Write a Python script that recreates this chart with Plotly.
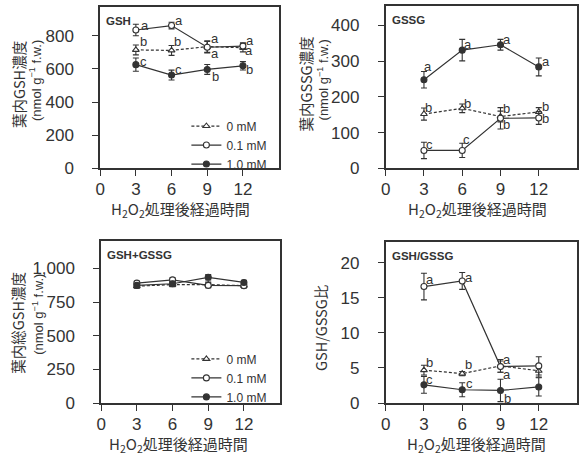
import plotly.graph_objects as go

# ---------------- data ----------------
times = [3, 6, 9, 12]
series_names = ["0 mM", "0.1 mM", "1.0 mM"]

# GSH (nmol g-1 f.w.)
gsh_0 = [715, 712, 735, 728]
gsh_01 = [835, 862, 731, 738]
gsh_10 = [626, 563, 597, 619]
gsh_0_err = [30, 30, 35, 25]
gsh_01_err = [35, 20, 35, 20]
gsh_10_err = [40, 30, 30, 25]
gsh_let_0 = ["b", "b", "a", "a"]
gsh_let_01 = ["a", "a", "a", "a"]
gsh_let_10 = ["c", "c", "b", "b"]

# GSSG
gssg_0 = [152, 168, 145, 158]
gssg_01 = [50, 50, 140, 141]
gssg_10 = [248, 331, 346, 284]
gssg_0_err = [17, 12, 15, 12]
gssg_01_err = [23, 20, 30, 18]
gssg_10_err = [23, 30, 15, 25]
gssg_let_0 = ["b", "b", "b", "b"]
gssg_let_01 = ["c", "c", "b", "b"]
gssg_let_10 = ["a", "a", "a", "a"]

# GSH+GSSG
tot_0 = [868, 880, 880, 872]
tot_01 = [891, 915, 874, 872]
tot_10 = [874, 886, 934, 896]
tot_0_err = [15, 15, 18, 15]
tot_01_err = [15, 15, 18, 15]
tot_10_err = [15, 18, 20, 15]

# GSH/GSSG ratio
rat_0 = [4.7, 4.2, 5.3, 4.6]
rat_01 = [16.6, 17.4, 5.2, 5.3]
rat_10 = [2.6, 1.9, 1.8, 2.3]
rat_0_err = [0.7, 0.3, 0.9, 0.9]
rat_01_err = [1.9, 1.2, 0.8, 1.3]
rat_10_err = [1.2, 1.0, 1.6, 1.3]
rat_let_0 = ["b", "b", "a", ""]
rat_let_01 = ["a", "a", "a", ""]
rat_let_10 = ["c", "c", "b", ""]

x_ticks = [0, 3, 6, 9, 12]
gsh_ticks = [0, 200, 400, 600, 800]
gssg_ticks = [0, 100, 200, 300, 400]
tot_ticks = [0, 250, 500, 750, 1000]
rat_ticks = [0, 5, 10, 15, 20]

panel_labels = ["GSH", "GSSG", "GSH+GSSG", "GSH/GSSG"]
xtitle = "H<sub>2</sub>O<sub>2</sub>処理後経過時間"
ytitles = [("葉内GSH濃度", "(nmol g<sup>−1</sup> f.w.)"),
           ("葉内GSSG濃度", "(nmol g<sup>−1</sup> f.w.)"),
           ("葉内総GSH濃度", "(nmol g<sup>−1</sup> f.w.)"),
           ("GSH/GSSG比", None)]

# ---------------- styles ----------------
W, H = 579, 462
INK = "#333333"
FONT = "Liberation Sans, Arial, sans-serif"
CJK = "Noto Sans CJK JP, Liberation Sans, sans-serif"

styles = {
    "0 mM": dict(dash="3px,2px", symbol="triangle-up", fill="white", size=6),
    "0.1 mM": dict(dash="solid", symbol="circle", fill="white", size=6),
    "1.0 mM": dict(dash="solid", symbol="circle", fill=INK, size=6),
}

def px_dom_x(a, b):
    return [a / W, b / W]

def px_dom_y(top, bottom):
    return [1 - bottom / H, 1 - top / H]

panels = [
    dict(xd=px_dom_x(96, 276), yd=px_dom_y(7, 172), yr=[0, 975], yt=gsh_ticks,
         data=[gsh_0, gsh_01, gsh_10], err=[gsh_0_err, gsh_01_err, gsh_10_err],
         let=[gsh_let_0, gsh_let_01, gsh_let_10], legend="legend", xt_shift=-9),
    dict(xd=px_dom_x(384, 577), yd=px_dom_y(6, 172), yr=[0, 455], yt=gssg_ticks,
         data=[gssg_0, gssg_01, gssg_10], err=[gssg_0_err, gssg_01_err, gssg_10_err],
         let=[gssg_let_0, gssg_let_01, gssg_let_10], legend=None, xt_shift=-4),
    dict(xd=px_dom_x(97, 277), yd=px_dom_y(246, 412), yr=[0, 1206], yt=tot_ticks,
         data=[tot_0, tot_01, tot_10], err=[tot_0_err, tot_01_err, tot_10_err],
         let=None, legend="legend2", xt_shift=-12),
    dict(xd=px_dom_x(384, 577), yd=px_dom_y(247, 412), yr=[0, 23], yt=rat_ticks,
         data=[rat_0, rat_01, rat_10], err=[rat_0_err, rat_01_err, rat_10_err],
         let=[rat_let_0, rat_let_01, rat_let_10], legend=None, xt_shift=-5),
]

# letter offsets in pixels (dx right, dy up), per panel / series / time
let_shift = [
    [[(8, 8), (6, 9), (8, -7), (6, -3)],
     [(9, 5), (7, 5), (8, 9), (7, 6)],
     [(8, 3), (7, 6), (8, -7), (7, -4)]],
    [[(5, 7), (5, 5), (6, 8), (7, 5)],
     [(6, 6), (4, 11), (6, -6), (7, -1)],
     [(4, 13), (6, 6), (7, 5), (7, 5)]],
    None,
    [[(6, 8), (6, 9), (7, -9), (0, 0)],
     [(6, 7), (7, 3), (7, 7), (0, 0)],
     [(6, 5), (7, 6), (7, -8), (0, 0)]],
]

fig = go.Figure()
annotations = []
layout = {}

for i, p in enumerate(panels):
    k = "" if i == 0 else str(i + 1)
    xa, ya = "x" + k, "y" + k
    for j, name in enumerate(series_names):
        st = styles[name]
        tr = go.Scatter(
            x=times, y=p["data"][j], name=name, xaxis=xa, yaxis=ya,
            mode="lines+markers",
            line=dict(color=INK, width=1.2, dash=st["dash"]),
            marker=dict(symbol=st["symbol"], size=st["size"], color=st["fill"],
                        line=dict(color=INK, width=1.1)),
            error_y=dict(type="data", array=p["err"][j], color=INK,
                         thickness=1.1, width=3),
            showlegend=p["legend"] is not None,
        )
        if p["legend"] is not None:
            tr.legend = p["legend"]
        fig.add_trace(tr)
        if p["let"] is not None:
            for t, v, L, sh in zip(times, p["data"][j], p["let"][j], let_shift[i][j]):
                if L:
                    annotations.append(dict(
                        x=t, y=v, xref=xa, yref=ya, text=L, showarrow=False,
                        xanchor="center", yanchor="middle",
                        xshift=sh[0], yshift=sh[1],
                        font=dict(family=FONT, size=13, color=INK)))
    axis_common = dict(showline=True, mirror=True, linecolor=INK, linewidth=1.6,
                       showgrid=False, zeroline=False, ticks="outside",
                       ticklen=6, tickwidth=1.3, tickcolor=INK,
                       tickfont=dict(family=FONT, size=17, color=INK))
    layout["xaxis" + k] = dict(axis_common, domain=p["xd"], range=[0, 15],
                               tickvals=x_ticks, anchor=ya, ticklabelstandoff=-1)
    layout["yaxis" + k] = dict(axis_common, domain=p["yd"], range=p["yr"],
                               tickvals=p["yt"], anchor=xa, tickformat=",",
                               ticklabelstandoff=15)

    # panel label
    annotations.append(dict(x=p["xd"][0], y=p["yd"][1], xref="paper", yref="paper",
                            text="<b>" + panel_labels[i] + "</b>", showarrow=False,
                            xanchor="left", yanchor="top", xshift=4, yshift=-6,
                            font=dict(family=FONT, size=11.5, color=INK)))
    # x title
    annotations.append(dict(x=(p["xd"][0] + p["xd"][1]) / 2, y=p["yd"][0],
                            xref="paper", yref="paper", text=xtitle, showarrow=False,
                            xanchor="center", yanchor="middle",
                            xshift=p["xt_shift"], yshift=-41,
                            font=dict(family=CJK, size=15, color=INK)))

# y titles (pixel anchored)
ytitle_pos = [((13, 86), (31, 82)), ((303, 86), (321, 82)),
              ((13, 330), (33, 321)), ((318, 335), None)]
for (l1, l2), (p1, p2) in zip(ytitles, ytitle_pos):
    annotations.append(dict(x=p1[0] / W, y=1 - p1[1] / H, xref="paper", yref="paper",
                            text=l1, showarrow=False, textangle=-90,
                            xanchor="center", yanchor="middle",
                            font=dict(family=CJK, size=14.5, color=INK)))
    if l2:
        annotations.append(dict(x=p2[0] / W, y=1 - p2[1] / H, xref="paper", yref="paper",
                                text=l2, showarrow=False, textangle=-90,
                                xanchor="center", yanchor="middle",
                                font=dict(family=FONT, size=13, color=INK)))

legend_common = dict(bgcolor="rgba(0,0,0,0)", borderwidth=0, itemwidth=30,
                     font=dict(family=FONT, size=12, color=INK),
                     xanchor="left", yanchor="top", tracegroupgap=0)

fig.update_layout(
    width=W, height=H, margin=dict(l=0, r=0, t=0, b=0),
    paper_bgcolor="white", plot_bgcolor="white",
    annotations=annotations,
    legend=dict(legend_common, x=0.316, y=1 - 114 / H),
    legend2=dict(legend_common, x=0.316, y=1 - 352 / H),
    **layout,
)

fig.write_html("out.html")
